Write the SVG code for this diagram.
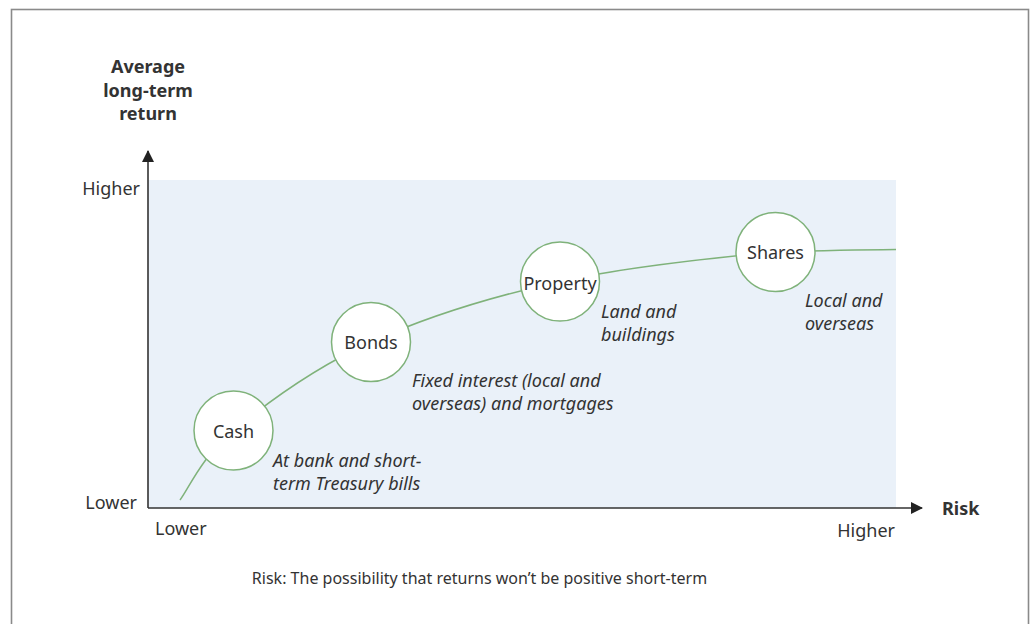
<svg xmlns="http://www.w3.org/2000/svg" width="1032" height="624" viewBox="0 0 1032 624">
<style>
text{font-family:"Noto Sans","Open Sans","Liberation Sans",sans-serif;fill:#333;font-size:18px}
.b{font-weight:bold}
.i{font-style:italic}
.m{text-anchor:middle}
.e{text-anchor:end}
.s{font-size:16px}
.node circle{fill:#fff;stroke:#7fb27a;stroke-width:1.5}
.curve{fill:none;stroke:#7fb27a;stroke-width:1.5}
.axis{stroke:#333;stroke-width:1.6;fill:none}
</style>
<defs>
<marker id="arr" viewBox="0 0 12 12" refX="11" refY="6" markerWidth="12" markerHeight="12" markerUnits="userSpaceOnUse" orient="auto">
<path d="M0,0 L12,6 L0,12 Z" fill="#222"/>
</marker>
</defs>
<rect x="11.5" y="9.5" width="1017" height="640" fill="#fff" stroke="#8a8a8a" stroke-width="1.6"/>
<rect x="148" y="180" width="748" height="328" fill="#eaf1f9"/>
<g id="axes">
<line class="axis" x1="148" y1="508" x2="148" y2="151" marker-end="url(#arr)"/>
<line class="axis" x1="148" y1="508" x2="922" y2="508" marker-end="url(#arr)"/>
<text class="b m" x="148" y="73">Average</text>
<text class="b m" x="148" y="97">long-term</text>
<text class="b m" x="148" y="120">return</text>
<text class="e" x="140" y="195">Higher</text>
<text class="e" x="137" y="509">Lower</text>
<text x="155" y="535">Lower</text>
<text class="e" x="895" y="537">Higher</text>
<text class="b" x="942" y="515">Risk</text>
</g>
<g id="connectors">
<path class="curve" d="M180,500 C188.9,488.4 201.7,456.8 233.5,430.5 C265.3,404.2 316.6,366.8 371,342 C425.4,317.2 492.6,296.5 560,281.5 C627.4,266.5 719.5,257.25 775.5,252 C815,250.8 860,249.8 896,249.5"/>
</g>
<g id="cash" class="node">
<circle cx="233.5" cy="430.5" r="39.5"/>
<text class="m" x="233.5" y="438">Cash</text>
<text class="i" x="273" y="467">At bank and short-</text>
<text class="i" x="273" y="490">term Treasury bills</text>
</g>
<g id="bonds" class="node">
<circle cx="371" cy="342" r="39.5"/>
<text class="m" x="371" y="349">Bonds</text>
<text class="i" x="412" y="387">Fixed interest (local and</text>
<text class="i" x="412" y="410">overseas) and mortgages</text>
</g>
<g id="property" class="node">
<circle cx="560" cy="281.5" r="39.5"/>
<text class="m" x="560" y="290">Property</text>
<text class="i" x="601" y="318">Land and</text>
<text class="i" x="601" y="341">buildings</text>
</g>
<g id="shares" class="node">
<circle cx="775.5" cy="252" r="39.5"/>
<text class="m" x="775.5" y="259">Shares</text>
<text class="i" x="805" y="307">Local and</text>
<text class="i" x="805" y="330">overseas</text>
</g>
<text class="m s" x="479.5" y="584">Risk: The possibility that returns won’t be positive short-term</text>
</svg>
